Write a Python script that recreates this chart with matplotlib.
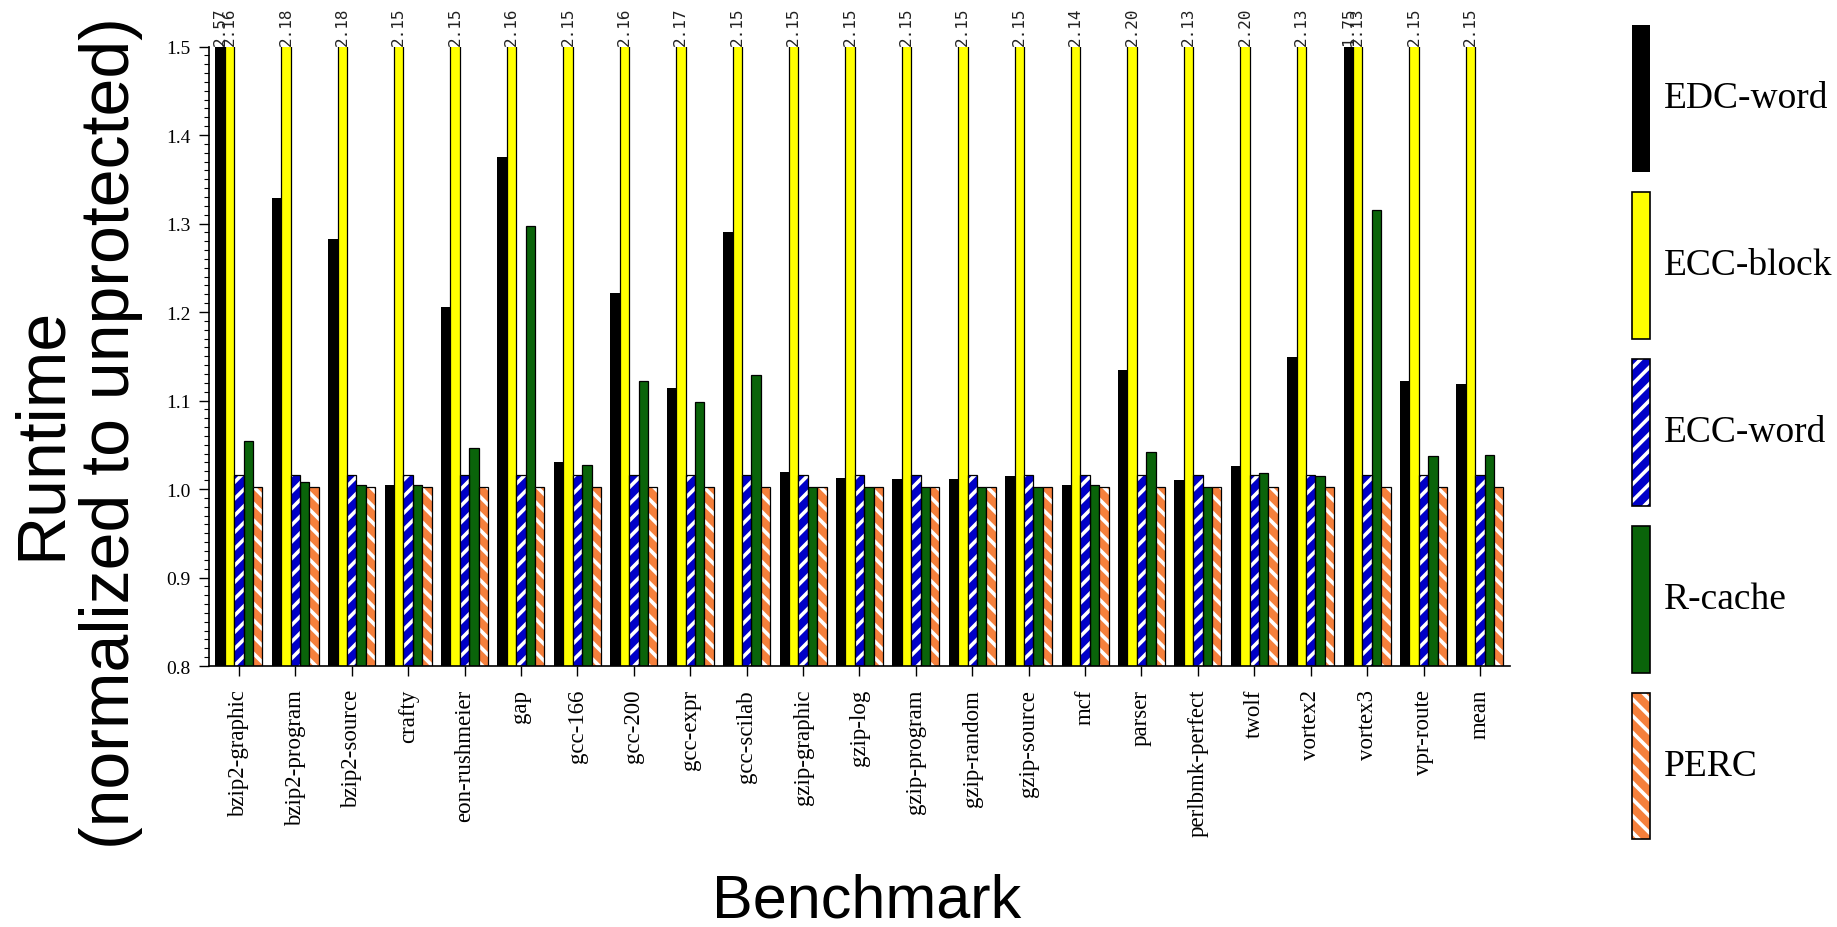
import matplotlib
matplotlib.use("Agg")
import matplotlib.pyplot as plt
import numpy as np
from matplotlib.patches import Patch
from matplotlib.legend_handler import HandlerTuple
from matplotlib.ticker import MultipleLocator

benchmarks = ["bzip2-graphic", "bzip2-program", "bzip2-source", "crafty", "eon-rushmeier",
              "gap", "gcc-166", "gcc-200", "gcc-expr", "gcc-scilab", "gzip-graphic",
              "gzip-log", "gzip-program", "gzip-random", "gzip-source", "mcf", "parser",
              "perlbmk-perfect", "twolf", "vortex2", "vortex3", "vpr-route", "mean"]

series_names = ["EDC-word", "ECC-block", "ECC-word", "R-cache", "PERC"]

edc_word = [2.57, 1.329, 1.282, 1.004, 1.206, 1.375, 1.031, 1.221, 1.114, 1.290, 1.019,
            1.013, 1.011, 1.011, 1.015, 1.004, 1.134, 1.010, 1.026, 1.149, 1.75, 1.122, 1.119]
ecc_block = [2.16, 2.18, 2.18, 2.15, 2.15, 2.16, 2.15, 2.16, 2.17, 2.15, 2.15,
             2.15, 2.15, 2.15, 2.15, 2.14, 2.20, 2.13, 2.20, 2.13, 2.13, 2.15, 2.15]
ecc_word = [1.016, 1.016, 1.016, 1.016, 1.016, 1.016, 1.016, 1.016, 1.016, 1.016, 1.016,
            1.016, 1.016, 1.016, 1.016, 1.016, 1.016, 1.016, 1.016, 1.016, 1.016, 1.016, 1.016]
r_cache = [1.054, 1.008, 1.005, 1.004, 1.046, 1.297, 1.027, 1.122, 1.098, 1.129, 1.002,
           1.002, 1.002, 1.002, 1.002, 1.004, 1.042, 1.002, 1.018, 1.015, 1.315, 1.037, 1.039]
perc = [1.002, 1.002, 1.002, 1.002, 1.002, 1.002, 1.002, 1.002, 1.002, 1.002, 1.002,
        1.002, 1.002, 1.002, 1.002, 1.002, 1.002, 1.002, 1.002, 1.002, 1.002, 1.002, 1.002]

series = [edc_word, ecc_block, ecc_word, r_cache, perc]
face_colors = ["#000000", "#FFFF00", "#0000C8", "#0A640A", "#F5803C"]
hatches = [None, None, "//", None, "\\\\"]

plt.rcParams["hatch.linewidth"] = 2.6

fig = plt.figure(figsize=(18.37, 9.28), dpi=100)
ax = fig.add_axes([0.1138, 0.2812, 0.7081, 0.6676])

x = np.arange(len(benchmarks))
w = 1 / 6
ymax = 1.5
ymin = 0.8

legend_handles = []
for i, (vals, fc, h) in enumerate(zip(series, face_colors, hatches)):
    pos = x + (i - 2) * w
    if h is None:
        ax.bar(pos, vals, width=w, bottom=0, color=fc, edgecolor="black",
               linewidth=0.9 if i else 0.0, zorder=2)
        legend_handles.append(Patch(facecolor=fc, edgecolor="black", linewidth=1.2 if i else 0.0))
    else:
        ax.bar(pos, vals, width=w, bottom=0, color=fc, edgecolor="white",
               hatch=h, linewidth=0, zorder=2)
        ax.bar(pos, vals, width=w, bottom=0, fill=False, edgecolor="black",
               linewidth=0.9, zorder=3)
        legend_handles.append((Patch(facecolor=fc, edgecolor="white", hatch=h, linewidth=0),
                               Patch(fill=False, edgecolor="black", linewidth=1.2)))
    for xi, v in zip(pos, vals):
        if v > ymax:
            ax.annotate(f"{v:.2f}", xy=(xi, ymax), xytext=(0, 1), textcoords="offset points",
                        rotation=90, ha="center", va="bottom", fontsize=11.5,
                        family="DejaVu Sans Mono", color="#222222", annotation_clip=False)

ax.set_xlim(-0.53, 22.53)
ax.set_ylim(ymin, ymax)
ax.set_yticks(np.round(np.arange(0.8, 1.501, 0.1), 1))
ax.set_yticklabels([f"{t:.1f}" for t in np.arange(0.8, 1.501, 0.1)],
                   family="Liberation Serif", fontsize=14)
ax.yaxis.set_minor_locator(MultipleLocator(0.01))
ax.set_xticks(x)
ax.set_xticklabels(benchmarks, rotation=90, family="Liberation Serif", fontsize=16.5)
ax.tick_params(axis="x", direction="out", length=7.5, width=1.0, pad=9)
ax.tick_params(axis="y", which="major", direction="out", length=7.5, width=1.0, pad=6)
ax.tick_params(axis="y", which="minor", direction="out", length=3.5, width=0.8)
for s in ["top", "right"]:
    ax.spines[s].set_visible(False)
ax.spines["left"].set_linewidth(1.2)
ax.spines["bottom"].set_linewidth(1.2)

fig.text(0.0414, 0.533, "Runtime\n(normalized to unprotected)", rotation=90,
         ha="center", va="center", multialignment="center", fontsize=49,
         family="Liberation Sans", linespacing=1.1)
fig.text(0.472, 0.028, "Benchmark", ha="center", va="center", fontsize=44,
         family="Liberation Sans")

fs_leg = 27
fig.legend(legend_handles, series_names, loc="upper left",
           bbox_to_anchor=(1632 / 1837, 1 - 26 / 928), frameon=False,
           prop={"family": "Liberation Serif", "size": fs_leg},
           handlelength=0.469, handleheight=5.65, labelspacing=0.533,
           handletextpad=0.37, borderpad=0, borderaxespad=0,
           handler_map={tuple: HandlerTuple(ndivide=1, pad=0)})

fig.savefig("out.png", dpi=100)
